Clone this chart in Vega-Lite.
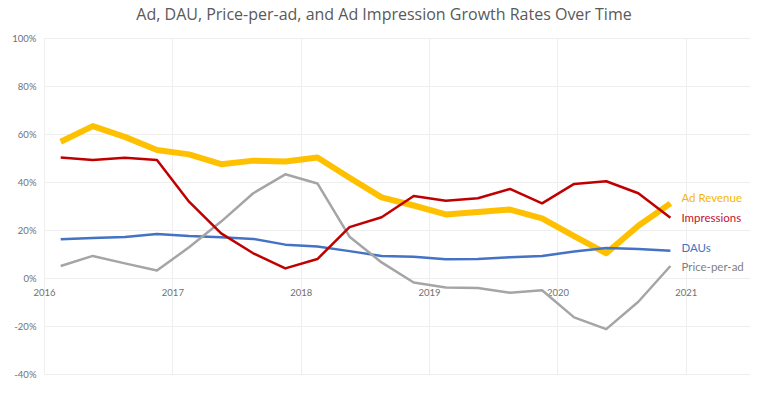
{
  "$schema": "https://vega.github.io/schema/vega-lite/v6.json",
  "width": 706,
  "height": 336,
  "autosize": {"type": "none"},
  "padding": {"left": 44, "top": 38, "right": 18, "bottom": 30},
  "background": "white",
  "title": {"text": "Ad, DAU, Price-per-ad, and Ad Impression Growth Rates Over Time", "font": "Open Sans", "fontSize": 16, "fontWeight": "normal", "color": "#595959", "dx": -13, "offset": 10},
  "config": {"view": {"stroke": null}},
  "data": {"values": [
    {"series": "Ad Revenue", "t": 2016.13, "value": 56.8},
    {"series": "Ad Revenue", "t": 2016.38, "value": 63.3},
    {"series": "Ad Revenue", "t": 2016.63, "value": 58.8},
    {"series": "Ad Revenue", "t": 2016.88, "value": 53.3},
    {"series": "Ad Revenue", "t": 2017.13, "value": 51.5},
    {"series": "Ad Revenue", "t": 2017.38, "value": 47.4},
    {"series": "Ad Revenue", "t": 2017.63, "value": 48.9},
    {"series": "Ad Revenue", "t": 2017.88, "value": 48.5},
    {"series": "Ad Revenue", "t": 2018.13, "value": 50.2},
    {"series": "Ad Revenue", "t": 2018.38, "value": 41.8},
    {"series": "Ad Revenue", "t": 2018.63, "value": 33.6},
    {"series": "Ad Revenue", "t": 2018.88, "value": 30.2},
    {"series": "Ad Revenue", "t": 2019.13, "value": 26.5},
    {"series": "Ad Revenue", "t": 2019.38, "value": 27.5},
    {"series": "Ad Revenue", "t": 2019.63, "value": 28.5},
    {"series": "Ad Revenue", "t": 2019.88, "value": 24.8},
    {"series": "Ad Revenue", "t": 2020.13, "value": 17.4},
    {"series": "Ad Revenue", "t": 2020.38, "value": 10.3},
    {"series": "Ad Revenue", "t": 2020.63, "value": 21.8},
    {"series": "Ad Revenue", "t": 2020.88, "value": 31.1},
    {"series": "DAUs", "t": 2016.13, "value": 16.1},
    {"series": "DAUs", "t": 2016.38, "value": 16.7},
    {"series": "DAUs", "t": 2016.63, "value": 17.1},
    {"series": "DAUs", "t": 2016.88, "value": 18.3},
    {"series": "DAUs", "t": 2017.13, "value": 17.5},
    {"series": "DAUs", "t": 2017.38, "value": 17.0},
    {"series": "DAUs", "t": 2017.63, "value": 16.3},
    {"series": "DAUs", "t": 2017.88, "value": 13.9},
    {"series": "DAUs", "t": 2018.13, "value": 13.1},
    {"series": "DAUs", "t": 2018.38, "value": 11.2},
    {"series": "DAUs", "t": 2018.63, "value": 9.2},
    {"series": "DAUs", "t": 2018.88, "value": 8.9},
    {"series": "DAUs", "t": 2019.13, "value": 7.8},
    {"series": "DAUs", "t": 2019.38, "value": 7.9},
    {"series": "DAUs", "t": 2019.63, "value": 8.6},
    {"series": "DAUs", "t": 2019.88, "value": 9.2},
    {"series": "DAUs", "t": 2020.13, "value": 11.0},
    {"series": "DAUs", "t": 2020.38, "value": 12.5},
    {"series": "DAUs", "t": 2020.63, "value": 12.1},
    {"series": "DAUs", "t": 2020.88, "value": 11.4},
    {"series": "Price-per-ad", "t": 2016.13, "value": 5.0},
    {"series": "Price-per-ad", "t": 2016.38, "value": 9.2},
    {"series": "Price-per-ad", "t": 2016.63, "value": 6.1},
    {"series": "Price-per-ad", "t": 2016.88, "value": 3.1},
    {"series": "Price-per-ad", "t": 2017.13, "value": 12.8},
    {"series": "Price-per-ad", "t": 2017.38, "value": 23.5},
    {"series": "Price-per-ad", "t": 2017.63, "value": 35.3},
    {"series": "Price-per-ad", "t": 2017.88, "value": 43.2},
    {"series": "Price-per-ad", "t": 2018.13, "value": 39.4},
    {"series": "Price-per-ad", "t": 2018.38, "value": 17.2},
    {"series": "Price-per-ad", "t": 2018.63, "value": 6.5},
    {"series": "Price-per-ad", "t": 2018.88, "value": -1.9},
    {"series": "Price-per-ad", "t": 2019.13, "value": -4.0},
    {"series": "Price-per-ad", "t": 2019.38, "value": -4.2},
    {"series": "Price-per-ad", "t": 2019.63, "value": -6.1},
    {"series": "Price-per-ad", "t": 2019.88, "value": -5.1},
    {"series": "Price-per-ad", "t": 2020.13, "value": -16.4},
    {"series": "Price-per-ad", "t": 2020.38, "value": -21.3},
    {"series": "Price-per-ad", "t": 2020.63, "value": -9.9},
    {"series": "Price-per-ad", "t": 2020.88, "value": 5.0},
    {"series": "Impressions", "t": 2016.13, "value": 50.2},
    {"series": "Impressions", "t": 2016.38, "value": 49.2},
    {"series": "Impressions", "t": 2016.63, "value": 50.1},
    {"series": "Impressions", "t": 2016.88, "value": 49.2},
    {"series": "Impressions", "t": 2017.13, "value": 31.8},
    {"series": "Impressions", "t": 2017.38, "value": 18.6},
    {"series": "Impressions", "t": 2017.63, "value": 10.3},
    {"series": "Impressions", "t": 2017.88, "value": 4.0},
    {"series": "Impressions", "t": 2018.13, "value": 7.9},
    {"series": "Impressions", "t": 2018.38, "value": 21.2},
    {"series": "Impressions", "t": 2018.63, "value": 25.3},
    {"series": "Impressions", "t": 2018.88, "value": 34.2},
    {"series": "Impressions", "t": 2019.13, "value": 32.2},
    {"series": "Impressions", "t": 2019.38, "value": 33.2},
    {"series": "Impressions", "t": 2019.63, "value": 37.1},
    {"series": "Impressions", "t": 2019.88, "value": 31.1},
    {"series": "Impressions", "t": 2020.13, "value": 39.2},
    {"series": "Impressions", "t": 2020.38, "value": 40.3},
    {"series": "Impressions", "t": 2020.63, "value": 35.3},
    {"series": "Impressions", "t": 2020.88, "value": 25.1}
  ]},
  "encoding": {
    "x": {"field": "t", "type": "quantitative", "scale": {"domain": [2016, 2021.5], "nice": false, "zero": false},
      "axis": {"title": null, "values": [2016, 2017, 2018, 2019, 2020, 2021], "format": "d", "offset": -96, "domain": false, "ticks": false, "labelFlush": false, "labelPadding": 9, "labelFont": "Lato", "labelFontSize": 9.5, "labelColor": "#707070", "grid": true, "gridColor": "#eeeeee", "gridWidth": 1}},
    "y": {"field": "value", "type": "quantitative", "scale": {"domain": [-40, 100], "nice": false},
      "axis": {"title": null, "values": [-40, -20, 0, 20, 40, 60, 80, 100], "labelExpr": "datum.value + '%'", "domain": false, "ticks": false, "labelPadding": 8, "labelFont": "Lato", "labelFontSize": 9.5, "labelColor": "#707070", "grid": true, "gridColor": "#eeeeee", "gridWidth": 1}}
  },
  "layer": [
    {
      "mark": {"type": "line", "strokeJoin": "round", "strokeCap": "butt"},
      "encoding": {
        "color": {"field": "series", "type": "nominal", "legend": null,
          "scale": {"domain": ["Ad Revenue", "Impressions", "DAUs", "Price-per-ad"], "range": ["#FFC000", "#C00000", "#4472C4", "#A5A5A5"]}},
        "strokeWidth": {"field": "series", "type": "nominal", "legend": null,
          "scale": {"type": "ordinal", "domain": ["Ad Revenue", "Impressions", "DAUs", "Price-per-ad"], "range": [6, 2.5, 2.5, 2.5]}}
      }
    },
    {
      "transform": [{"filter": "datum.t == 2020.88 && datum.series == 'Ad Revenue'"}],
      "mark": {"type": "text", "align": "left", "dx": 11, "dy": -4, "font": "Lato", "fontSize": 11.5, "color": "#F5B800"},
      "encoding": {"text": {"field": "series"}}
    },
    {
      "transform": [{"filter": "datum.t == 2020.88 && (datum.series == 'Impressions' || datum.series == 'Price-per-ad')"}],
      "mark": {"type": "text", "align": "left", "dx": 11, "dy": 1.5, "font": "Lato", "fontSize": 11.5},
      "encoding": {
        "text": {"field": "series"},
        "color": {"field": "series", "type": "nominal", "legend": null,
          "scale": {"domain": ["Impressions", "Price-per-ad"], "range": ["#C8102E", "#7F7F7F"]}}
      }
    },
    {
      "transform": [{"filter": "datum.t == 2020.88 && datum.series == 'DAUs'"}],
      "mark": {"type": "text", "align": "left", "dx": 11, "dy": -2, "font": "Lato", "fontSize": 11.5, "color": "#4472C4"},
      "encoding": {"text": {"field": "series"}}
    }
  ],
  "resolve": {"scale": {"color": "independent"}}
}
